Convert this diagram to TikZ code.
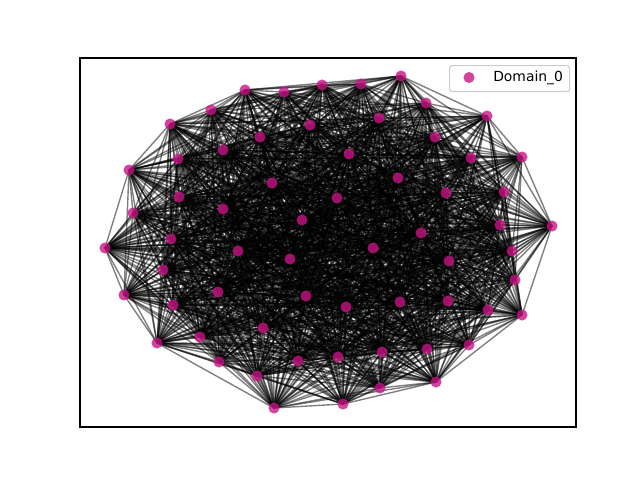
\documentclass[tikz,border=0pt]{standalone}
\usepackage{fontspec}
\setmainfont{DejaVu Sans}
\definecolor{mvr}{RGB}{199,21,133}
\tikzset{
  edge/.style={draw=black, line width=1pt, draw opacity=0.5},
  dot/.style={circle, fill=mvr, fill opacity=0.8, inner sep=0pt, minimum size=8pt},
  frame/.style={draw=black, line width=0.8pt},
  legendbox/.style={draw=black!20, fill=white, fill opacity=0.8, rounded corners=2pt, line width=0.8pt}
}
\begin{document}
\begin{tikzpicture}[x=0.72pt, y=-0.72pt]
\useasboundingbox (0,0) rectangle (640,480);
\foreach \x/\y [count=\n] in {
401/76, 361/84, 322/85, 284/92, 245/90, 211/110, 170/124, 129/170, 133/213, 105/248,
124/295, 157/343, 219/362, 257/376, 274/408, 343/404, 380/388, 436/382, 469/345, 522/315,
515/280, 552/226, 522/157, 487/116, 426/103,
379/118, 435/137, 310/125, 260/137, 223/150, 178/159, 349/154, 471/158, 398/178, 504/192,
446/193, 272/183, 179/197, 223/209, 337/198, 302/220, 500/225, 421/233, 171/239, 512/251,
238/251, 373/248, 290/259, 449/261, 163/270, 218/292, 306/296, 400/302, 448/301, 173/305,
346/307, 488/310, 263/328, 200/337, 427/349, 382/352, 338/357, 298/361}{
  \coordinate (n\n) at (\x,\y);
  \expandafter\xdef\csname px\n\endcsname{\x}
  \expandafter\xdef\csname py\n\endcsname{\y}
}
\foreach \a/\b in {1/5, 1/24, 22/24, 20/22, 18/20, 16/18, 15/16, 12/15, 10/12, 8/10, 7/8, 5/7}{
  \expandafter\gdef\csname hull-\a-\b\endcsname{}
}
\pgfmathsetseed{7}
\foreach \i in {1,...,62}{
  \pgfmathtruncatemacro\kk{\i+1}
  \foreach \j in {\kk,...,63}{
    \pgfmathsetmacro\dd{veclen(\csname px\i\endcsname-\csname px\j\endcsname,\csname py\i\endcsname-\csname py\j\endcsname)}
    \pgfmathsetmacro\pp{(\i>25) ? 0.95 : (0.35+0.6*exp(-(\dd/280)^2))}
    \pgfmathtruncatemacro\ok{rnd<\pp}
    \ifcsname hull-\i-\j\endcsname \def\ok{1}\fi
    \ifnum\ok=1 \draw[edge] (n\i) -- (n\j);\fi
  }
}
\foreach \n in {1,...,63}{
  \node[dot] (d\n) at (n\n) {};
}
\draw[frame] (80,58) rectangle (576,427);
\node[legendbox, minimum width=86.4pt, minimum height=18.7pt, anchor=north west] (leg) at (449,65) {};
\node[dot] (legdot) at (469,77.5) {};
\node[anchor=west, inner sep=0pt, font=\fontsize{10pt}{12pt}\selectfont] (legtext) at (493,77.5) {Domain\_0};
\end{tikzpicture}
\end{document}
